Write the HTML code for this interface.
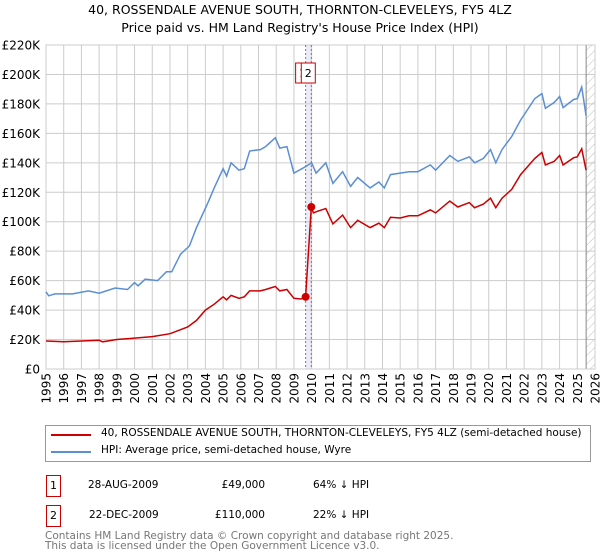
<!DOCTYPE html>
<html><head><meta charset="utf-8"><style>
body{margin:0;background:#fff;font-family:"DejaVu Sans","Liberation Sans",sans-serif;}
#wrap{position:relative;width:600px;height:560px;overflow:hidden}
.t{position:absolute;white-space:nowrap;color:#000}
</style></head><body><div id="wrap">
<div class="t" style="left:0;width:600px;text-align:center;top:2px;font-size:12.5px">40, ROSSENDALE AVENUE SOUTH, THORNTON-CLEVELEYS, FY5 4LZ</div>
<div class="t" style="left:0;width:600px;text-align:center;top:20px;font-size:12.5px">Price paid vs. HM Land Registry's House Price Index (HPI)</div>
<svg id="chart" width="600" height="420" style="position:absolute;left:0;top:0"></svg>
<div style="position:absolute;left:45px;top:425px;width:546px;height:37px;border:1px solid #999;box-sizing:border-box">
 <div><div style="position:absolute;left:5px;top:8px;width:40px;height:2px;background:#cc0000"></div><div class="t" style="left:55px;top:1px;font-size:10.5px">40, ROSSENDALE AVENUE SOUTH, THORNTON-CLEVELEYS, FY5 4LZ (semi-detached house)</div></div>
 <div><div style="position:absolute;left:5px;top:25px;width:40px;height:2px;background:#5b8fd4"></div><div class="t" style="left:55px;top:18px;font-size:10.5px">HPI: Average price, semi-detached house, Wyre</div></div>
</div>
<div>
 <div class="t" style="left:46px;top:475px;width:13px;height:20px;border:1px solid #cc0000;font-size:11px;text-align:center;line-height:20px">1</div>
 <div class="t" style="left:88px;top:479px;font-size:10.5px">28-AUG-2009</div>
 <div class="t" style="left:195px;width:70px;text-align:right;top:479px;font-size:10.5px">£49,000</div>
 <div class="t" style="left:313px;top:479px;font-size:10.5px">64% ↓ HPI</div>
</div>
<div>
 <div class="t" style="left:46px;top:505px;width:13px;height:20px;border:1px solid #cc0000;font-size:11px;text-align:center;line-height:20px">2</div>
 <div class="t" style="left:89px;top:509px;font-size:10.5px">22-DEC-2009</div>
 <div class="t" style="left:195px;width:70px;text-align:right;top:509px;font-size:10.5px">£110,000</div>
 <div class="t" style="left:313px;top:509px;font-size:10.5px">22% ↓ HPI</div>
</div>
<div class="t" style="left:45px;top:531px;font-size:10.5px;color:#777;line-height:10px">Contains HM Land Registry data © Crown copyright and database right 2025.<br>This data is licensed under the Open Government Licence v3.0.</div>
</div>
<script>
const hpiDates=[1995.0,1995.15,1995.5,1996.5,1997.4,1998.0,1998.9,1999.6,2000.0,2000.2,2000.6,2001.3,2001.8,2002.1,2002.6,2003.1,2003.5,2004.15,2004.5,2005.0,2005.2,2005.45,2005.9,2006.2,2006.5,2007.1,2007.4,2007.95,2008.2,2008.6,2009.0,2009.6,2010.0,2010.25,2010.8,2011.2,2011.75,2012.2,2012.6,2013.3,2013.8,2014.1,2014.45,2015.0,2015.5,2016.0,2016.7,2017.0,2017.8,2018.25,2018.9,2019.2,2019.7,2020.1,2020.4,2020.75,2021.3,2021.8,2022.6,2023.0,2023.2,2023.7,2024.0,2024.2,2024.8,2025.0,2025.25,2025.5];
const hpiValues=[52.4,49.7,51,51,53,51.5,55,54,58.7,56.5,61,60,66,66,78,83.5,96,113,123,136,131,140,135,136,148,149,151,157,150,151,133,137,140,133,140,126,134,124,130,123,127,123,132,133,134,134,138.6,135,145,141,144,140,143,149,140,149,158,169,183.6,187,177,181,185,177.5,183,183.6,191.5,172];
const propDates=[1995.0,1996.0,1997.0,1998.0,1998.2,1999.0,2000.0,2001.0,2002.0,2003.0,2003.5,2004.0,2004.5,2005.0,2005.2,2005.45,2005.9,2006.2,2006.5,2007.1,2007.4,2007.95,2008.2,2008.6,2009.0,2009.4,2009.66,2009.98,2010.1,2010.3,2010.8,2011.2,2011.75,2012.2,2012.6,2013.3,2013.8,2014.1,2014.45,2015.0,2015.5,2016.0,2016.7,2017.0,2017.8,2018.25,2018.9,2019.2,2019.7,2020.1,2020.4,2020.75,2021.3,2021.8,2022.6,2023.0,2023.2,2023.7,2024.0,2024.2,2024.8,2025.0,2025.25,2025.5];
const propValues=[19,18.5,19,19.5,18.5,20,21,22,24,28.5,33,40,44,49,47,50,48,49,53,53,54,56,53,54,48,47.5,49,110,106,107,109,98.5,104.5,96,101,96,99,96,103,102.5,104,104,108,106,114,110,113,109.5,112,116,109.5,116,122,132,143,147,138.5,141,145,138.5,143.5,144,149.5,135];
const saleDates=[2009.66,2009.98];
const saleValues=[49,110];
const saleLabels=["1","2"];
const yTicks=[0,20,40,60,80,100,120,140,160,180,200,220];
const xYears=[1995,1996,1997,1998,1999,2000,2001,2002,2003,2004,2005,2006,2007,2008,2009,2010,2011,2012,2013,2014,2015,2016,2017,2018,2019,2020,2021,2022,2023,2024,2025,2026];
const X0=46,X1=595,Y0=369,Y1=45;
const xs=y=>X0+(y-1995)/(2026-1995)*(X1-X0);
const ys=v=>Y0-v/220*(Y0-Y1);
const svg=document.getElementById('chart');const NS='http://www.w3.org/2000/svg';
const FF='DejaVu Sans, Liberation Sans, sans-serif';
function mk(tag,a,name){const e=document.createElementNS(NS,tag);for(const k in a)e.setAttribute(k,a[k]);


svg.appendChild(e);return e;}
const defs=document.createElementNS(NS,'defs');defs.innerHTML='<pattern id="h" width="6" height="6" patternUnits="userSpaceOnUse" patternTransform="rotate(45)"><line x1="0" y1="0" x2="0" y2="6" stroke="#bbb" stroke-width="1"/></pattern>';svg.appendChild(defs);
mk('rect',{x:xs(saleDates[0]),y:Y1,width:xs(saleDates[1])-xs(saleDates[0]),height:Y0-Y1,fill:'#e6eefa'},'sale-band');
yTicks.forEach(t=>{mk('line',{x1:X0,x2:X1,y1:ys(t),y2:ys(t),stroke:'#ccc','stroke-width':1},'y-gridline');
const tx=mk('text',{x:40,y:ys(t)+4.5,'text-anchor':'end','font-size':12,'font-family':FF},'y-tick-label');tx.textContent='£'+t+(t?'K':'');});
xYears.forEach(y=>{mk('line',{x1:xs(y),x2:xs(y),y1:Y1,y2:Y0,stroke:'#ccc','stroke-width':1},'x-gridline');
const tx=mk('text',{x:xs(y)+4.5,y:373,'text-anchor':'end','font-size':12,'font-family':FF,transform:'rotate(-90 '+(xs(y)+4.5)+' 373)'},'x-tick-label');tx.textContent=y;});
mk('rect',{x:xs(2025.5),y:Y1,width:X1-xs(2025.5),height:Y0-Y1,fill:'url(#h)'},'forecast-hatch');
mk('line',{x1:xs(2025.5),x2:xs(2025.5),y1:Y1,y2:Y0,stroke:'#888','stroke-width':1},'latest-data-line');
mk('rect',{x:X0,y:Y1,width:X1-X0,height:Y0-Y1,fill:'none',stroke:'#ccc'},'plot-border');
saleDates.forEach((d,i)=>{mk('line',{x1:xs(d),x2:xs(d),y1:Y1,y2:Y0,stroke:'#e05050','stroke-width':1,'stroke-dasharray':'2,2'},'sale-line');});
const pts=(D,V)=>D.map((d,i)=>xs(d).toFixed(1)+','+ys(V[i]).toFixed(1)).join(' ');
mk('polyline',{points:pts(hpiDates,hpiValues),fill:'none',stroke:'#5b8fd4','stroke-width':1.5},'hpi-line');
mk('polyline',{points:pts(propDates,propValues),fill:'none',stroke:'#cc0000','stroke-width':1.5},'property-line');
saleDates.forEach((d,i)=>{mk('circle',{cx:xs(d),cy:ys(saleValues[i]),r:4,fill:'#cc0000'},'sale-marker');});
saleDates.forEach((d,i)=>{const x=xs(d)-10;
mk('rect',{x:x,y:63,width:14,height:20,fill:'#fff',stroke:'#cc0000'},'sale-label-box');
const tx=mk('text',{x:x+7,y:77,'text-anchor':'middle','font-size':11,'font-family':FF},'sale-label');tx.textContent=saleLabels[i];});
</script>
</body></html>
